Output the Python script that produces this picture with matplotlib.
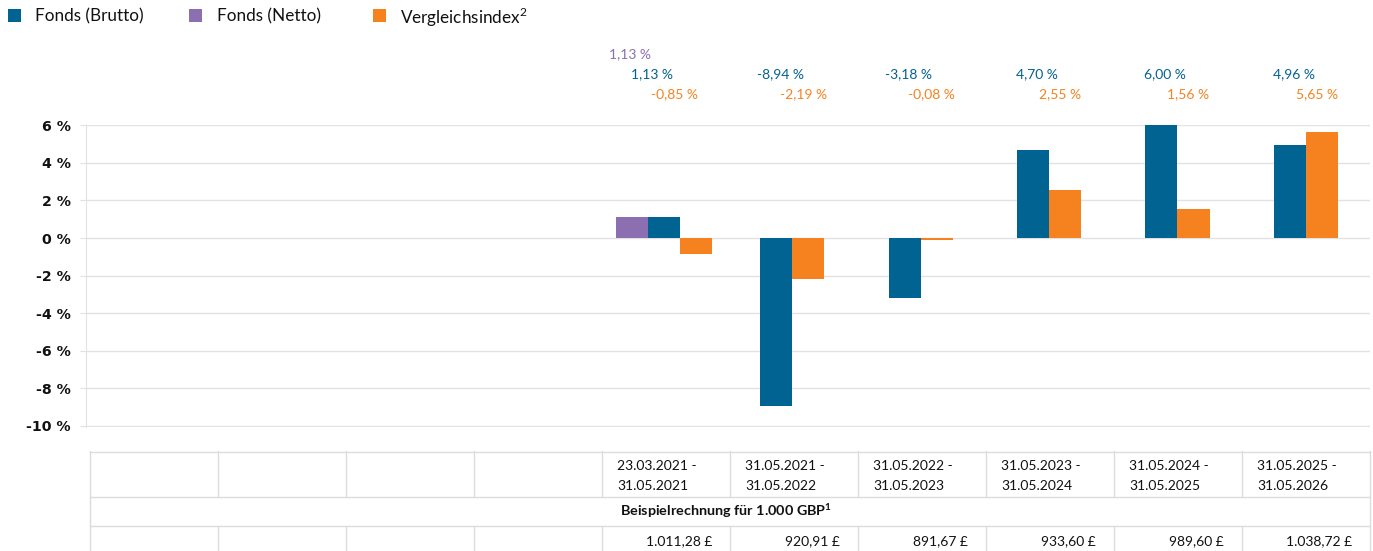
import matplotlib
matplotlib.use("Agg")
import matplotlib.pyplot as plt
from matplotlib.patches import Rectangle
from matplotlib.transforms import blended_transform_factory

# ---------------- data ----------------
period_start = ["", "", "", "", "23.03.2021", "31.05.2021", "31.05.2022", "31.05.2023", "31.05.2024", "31.05.2025"]
period_end = ["", "", "", "", "31.05.2021", "31.05.2022", "31.05.2023", "31.05.2024", "31.05.2025", "31.05.2026"]
fonds_brutto = [None, None, None, None, 1.13, -8.94, -3.18, 4.70, 6.00, 4.96]
fonds_netto = [None, None, None, None, 1.13, None, None, None, None, None]
vergleichsindex = [None, None, None, None, -0.85, -2.19, -0.08, 2.55, 1.56, 5.65]
beispiel_gbp = [None, None, None, None, 1011.28, 920.91, 891.67, 933.60, 989.60, 1038.72]
y_ticks = [-10, -8, -6, -4, -2, 0, 2, 4, 6]

series_names = ["Fonds (Brutto)", "Fonds (Netto)", "Vergleichsindex"]
# --------------------------------------

BLUE = "#006391"
PURPLE = "#8C6FB0"
ORANGE = "#F5821F"
GRID = "#e2e2e2"
TABLE = "#dcdcdc"

W, H = 1373, 551
fig = plt.figure(figsize=(W / 100, H / 100), dpi=100)
plt.rcParams["mathtext.fontset"] = "custom"
plt.rcParams["mathtext.rm"] = "Lato"
plt.rcParams["mathtext.bf"] = "Lato:bold"

BODY = "Lato"


def fx(px):
    return px / W


def fy(py):
    return 1 - py / H


# main axes
ax = fig.add_axes([fx(86), fy(427), fx(1370 - 86), (427 - 125) / H])
n = len(period_start)
ax.set_xlim(-0.5, n - 0.5)
ax.set_ylim(-10.06, 6.02)
ax.set_yticks(y_ticks)
ax.set_yticklabels([f"{v} %" for v in y_ticks], fontfamily="DejaVu Sans",
                   fontweight="bold", fontsize=10.2, color="#111111")
ax.set_xticks([])
ax.tick_params(axis="y", length=4, color=GRID, pad=7)
for s in ["top", "right", "bottom"]:
    ax.spines[s].set_visible(False)
ax.spines["left"].set_color(GRID)
ax.yaxis.grid(True, color=GRID, linewidth=1)
ax.set_axisbelow(True)

bw = 0.25
all_series = [(fonds_netto, PURPLE), (fonds_brutto, BLUE), (vergleichsindex, ORANGE)]
for i in range(n):
    present = [(vals[i], c) for vals, c in all_series if vals[i] is not None]
    k = len(present)
    for j, (v, c) in enumerate(present):
        xpos = i - k * bw / 2 + (j + 0.5) * bw
        ax.bar(xpos, v, width=bw, color=c, linewidth=0)

# value labels above the chart
px_per_cat = (1370 - 86) / n
trans = blended_transform_factory(ax.transData, fig.transFigure)


def fmt_pct(v):
    return f"{v:.2f}".replace(".", ",") + " %"


for i in range(n):
    if fonds_netto[i] is not None:
        ax.text(i - 34 / px_per_cat, fy(54), fmt_pct(fonds_netto[i]), transform=trans,
                ha="center", va="center", fontsize=10, color=PURPLE, family=BODY)
    if fonds_brutto[i] is not None:
        ax.text(i - 12 / px_per_cat, fy(74), fmt_pct(fonds_brutto[i]), transform=trans,
                ha="center", va="center", fontsize=10, color=BLUE, family=BODY)
    if vergleichsindex[i] is not None:
        ax.text(i + 11 / px_per_cat, fy(94), fmt_pct(vergleichsindex[i]), transform=trans,
                ha="center", va="center", fontsize=10, color=ORANGE, family=BODY)

# legend
legend_items = [(series_names[0], BLUE, 8, 35, 16),
                (series_names[1], PURPLE, 189, 217, 16),
                (series_names[2] + "$^{2}$", ORANGE, 373, 400, 17)]
for label, c, sx, tx, ty in legend_items:
    fig.add_artist(Rectangle((fx(sx), fy(22)), fx(13), 13 / H, transform=fig.transFigure,
                             color=c, linewidth=0))
    fig.text(fx(tx), fy(ty), label, ha="left", va="center", fontsize=12.3,
             family=BODY, color="#111111")

# table below the chart
tax = fig.add_axes([fx(90), 0, fx(1370 - 90), (551 - 451) / H])
tax.set_xlim(-0.5, n - 0.5)
tax.set_ylim(551, 451)
tax.axis("off")
cw = (1370 - 90) / n  # px per column
lk = dict(color=TABLE, linewidth=1, clip_on=False)
for yy in [451.5, 497, 526]:
    tax.plot([-0.5, n - 0.5], [yy, yy], **lk)
for b in range(n + 1):
    xb = b - 0.5
    if b == 0 or b == n:
        tax.plot([xb, xb], [451, 551], **lk)
    else:
        tax.plot([xb, xb], [451, 497], **lk)
        tax.plot([xb, xb], [526, 551], **lk)

for i in range(n):
    if period_start[i]:
        tax.text(i - 0.5 + 15 / cw, 466, period_start[i] + " -", ha="left", va="center",
                 fontsize=10, family=BODY, color="#111111")
        tax.text(i - 0.5 + 15 / cw, 486, period_end[i], ha="left", va="center",
                 fontsize=10, family=BODY, color="#111111")
    if beispiel_gbp[i] is not None:
        s = f"{beispiel_gbp[i]:,.2f}".replace(",", "X").replace(".", ",").replace("X", ".")
        tax.text(i + 0.5 - 18 / cw, 541, s + " £", ha="right", va="center",
                 fontsize=10, family=BODY, color="#111111")

first = next(i for i, v in enumerate(beispiel_gbp) if v is not None)
tax.text(first - 0.5 + 18 / cw, 511, "Beispielrechnung für 1.000 GBP$^{\\mathbf{1}}$",
         ha="left", va="center", fontsize=10.4, fontweight="bold", family=BODY, color="#111111")

fig.savefig("out.png", dpi=100)
